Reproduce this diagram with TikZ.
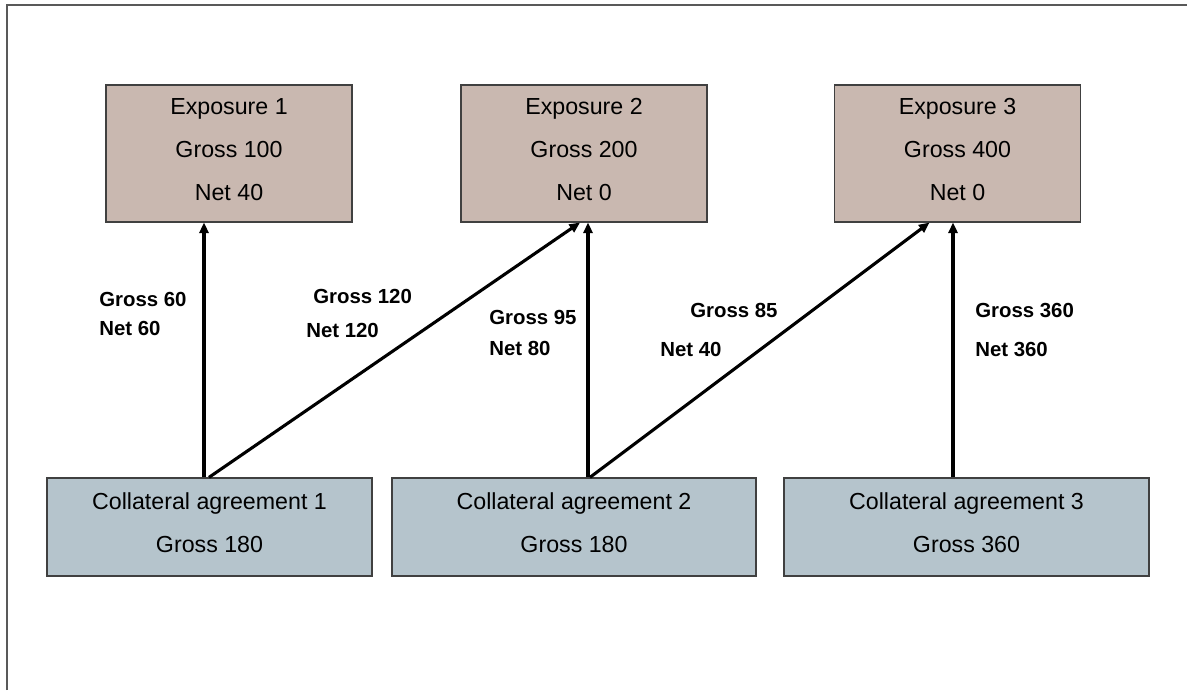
\documentclass[tikz,border=0pt]{standalone}
\usepackage{fontspec}
\setmainfont{Liberation Sans}
\usetikzlibrary{arrows.meta,calc}
\definecolor{expofill}{RGB}{201,184,176}
\definecolor{collfill}{RGB}{181,196,204}

\begin{document}
\begin{tikzpicture}[x=0.025cm, y=-0.025cm,
  box/.style={draw=black!75, line width=0.9pt, align=center, inner sep=0pt, text depth=6pt, font=\fontsize{16.5}{30.6}\selectfont},
  expo/.style={box, fill=expofill, minimum width=6.15cm, minimum height=3.42cm},
  coll/.style={box, fill=collfill, minimum height=2.45cm},
  edge/.style={-{Triangle[length=7.5pt,width=6.5pt]}, line width=2.2pt},
  lbl/.style={anchor=west, inner sep=0pt, font=\fontsize{14.5}{17}\selectfont\bfseries}
]
\useasboundingbox (0,0) rectangle (1187,690);
\draw[black!65, line width=1.4pt] (7,690) -- (7,5) -- (1187,5);
% exposures
\node[expo] (e1) at (229,153.5) {Exposure 1\\Gross 100\\Net 40};
\node[expo] (e2) at (584,153.5) {Exposure 2\\Gross 200\\Net 0};
\node[expo] (e3) at (957.5,153.5) {Exposure 3\\Gross 400\\Net 0};
% collateral agreements
\node[coll, minimum width=8.12cm] (c1) at (209.5,527) {Collateral agreement 1\\Gross 180};
\node[coll, minimum width=9.1cm] (c2) at (574,527) {Collateral agreement 2\\Gross 180};
\node[coll, minimum width=9.12cm] (c3) at (966.5,527) {Collateral agreement 3\\Gross 360};
% allocations
\draw[edge] ($(c1.north)+(-5.5,0)$) -- ($(e1.south)+(-25,0)$);
\draw[edge] ($(c1.north)+(-0.5,0)$) -- ($(e2.south)+(-4,0)$);
\draw[edge] ($(c2.north)+(14,0)$) -- ($(e2.south)+(4,0)$);
\draw[edge] ($(c2.north)+(16,0)$) -- ($(e3.south)+(-28,0)$);
\draw[edge] ($(c3.north)+(-13.5,0)$) -- ($(e3.south)+(-4.5,0)$);
\node[lbl] (g1) at (99,299) {Gross 60};
\node[lbl] (n1) at (99,328) {Net 60};
\node[lbl] (g2) at (313,296) {Gross 120};
\node[lbl] (n2) at (306,330) {Net 120};
\node[lbl] (g3) at (489,317) {Gross 95};
\node[lbl] (n3) at (489,348) {Net 80};
\node[lbl] (g4) at (690,310) {Gross 85};
\node[lbl] (n4) at (660,349) {Net 40};
\node[lbl] (g5) at (975,310) {Gross 360};
\node[lbl] (n5) at (975,349) {Net 360};
\end{tikzpicture}
\end{document}
